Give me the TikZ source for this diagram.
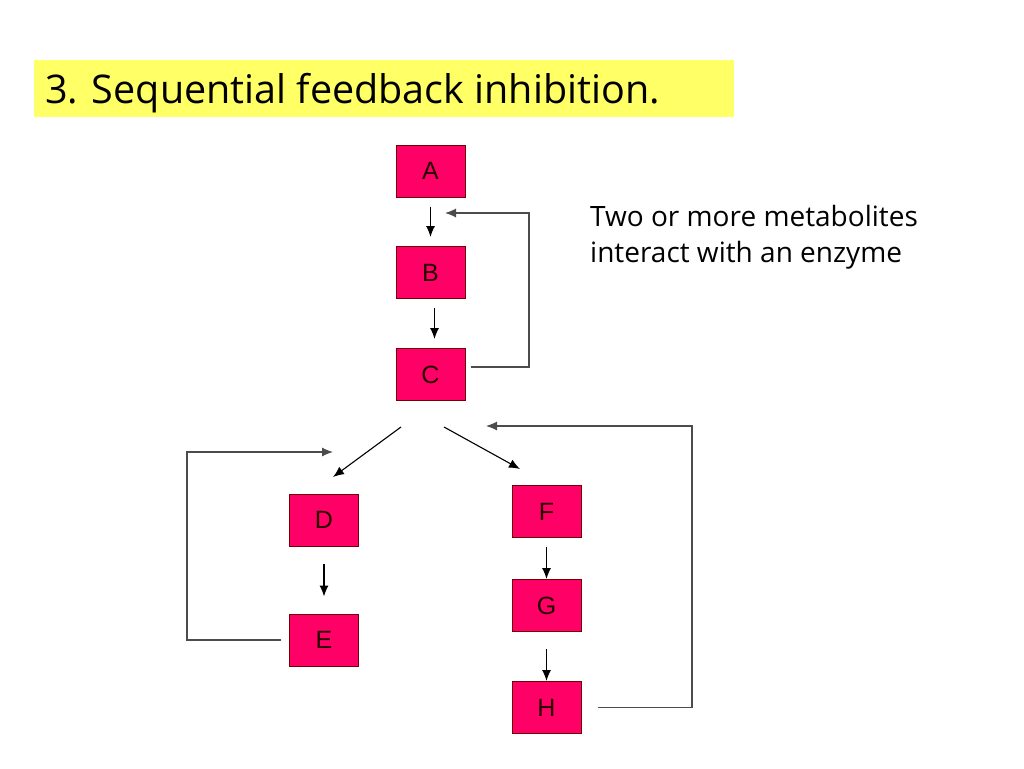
\documentclass[tikz,border=0pt]{standalone}
\usepackage{fontspec}
\setmainfont{Liberation Sans}
\newfontfamily\handfont{Open Sans}
\usetikzlibrary{positioning,arrows,arrows.meta}

\definecolor{enzpink}{RGB}{255,0,102}
\definecolor{titleyellow}{RGB}{255,255,102}

\tikzset{
	enz/.style={draw=red!45!black, line width=1pt, fill=enzpink, minimum width=69pt, minimum height=52pt, inner sep=0pt, text=black!85!red, font=\fontsize{25}{25}\selectfont},
	flow/.style={->,>={Latex[length=11pt,width=9pt]}, line width=1.1pt, black},
	fback/.style={->,>={Latex[length=11pt,width=9pt]}, line width=1.1pt, black!70}
}

\begin{document}
\begin{tikzpicture}[x=1pt,y=-1pt]
	\useasboundingbox (0,0) rectangle (1024,768);
	
	% title bar
	\fill[titleyellow] (34,60) rectangle (734,117);
	\node[anchor=base west, inner sep=0pt, font=\handfont\fontsize{39.5}{40}\selectfont] (title) at (45,103) {3. Sequential feedback inhibition.};
	
	% enzymes / metabolites
	\node[enz] (A) at (430.5,171) {A};
	\node[enz] (B) at (430.5,272.5) {B};
	\node[enz] (C) at (430.5,374.5) {C};
	\node[enz] (D) at (324,520) {D};
	\node[enz] (E) at (324,640) {E};
	\node[enz] (F) at (546.5,511.5) {F};
	\node[enz] (G) at (546.5,605.5) {G};
	\node[enz] (H) at (546.5,707.5) {H};
	
	\node[anchor=base west, align=left, inner sep=0pt, font=\handfont\fontsize{28}{36}\selectfont] (note) at (590,262) {Two or more metabolites\\interact with an enzyme};
	
	% main pathway
	\draw[flow, shorten <=9pt, shorten >=9pt] (A) -- (B);
	\draw[flow, shorten <=9pt, shorten >=9pt] ([xshift=4pt]B.south) -- ([xshift=4pt]C.north);
	\draw[flow, shorten <=17pt, shorten >=17pt] (D) -- (E);
	\draw[flow, shorten <=9pt] (F) -- (G);
	\draw[flow, shorten <=17pt] (G) -- (H);
	
	% branch point
	\coordinate (splitD) at (401,427);
	\coordinate (splitF) at (444,427);
	\coordinate (toD) at (333,477);
	\coordinate (toF) at (520,469);
	\draw[flow] (splitD) -- (toD);
	\draw[flow] (splitF) -- (toF);
	
	% feedback loops
	\coordinate (backC) at (529,213);
	\coordinate (tipB) at (445,213);
	\draw[fback] ([shift={(5pt,7.5pt)}]C.east) -| (backC) -- (tipB);
	
	\coordinate (backE) at (187,452);
	\draw[fback] ([xshift=-8pt]E.west) -| (backE) -- (toD |- backE);
	
	\coordinate (backH) at (692,426);
	\coordinate (tipC) at (486,426);
	\draw[fback] ([xshift=16pt]H.east) -| (backH) -- (tipC);
	
\end{tikzpicture}
\end{document}
